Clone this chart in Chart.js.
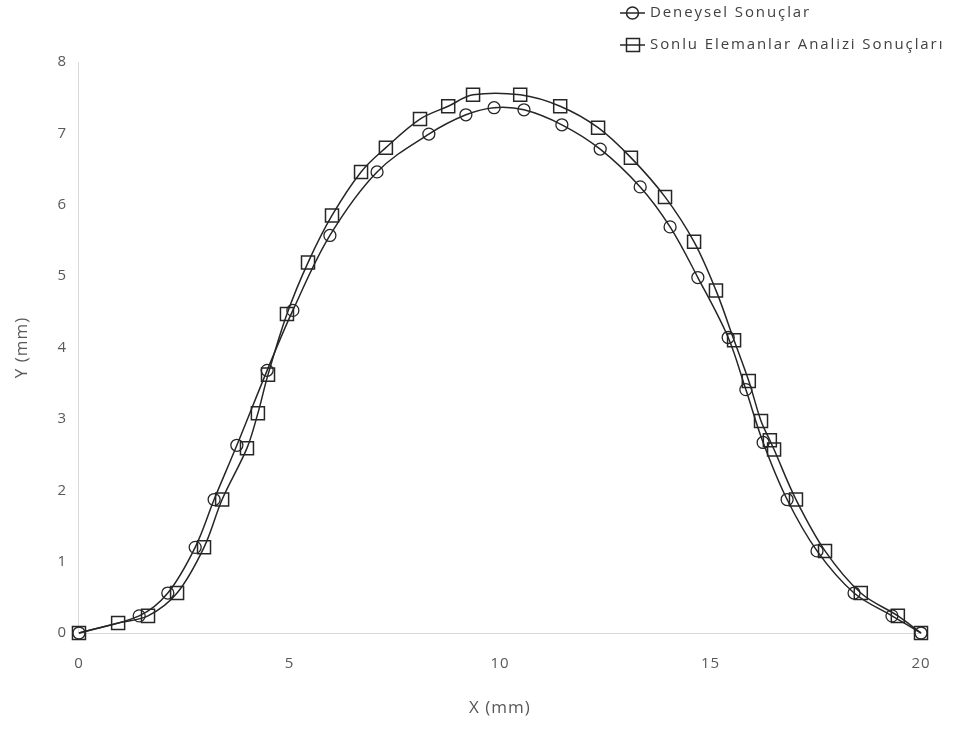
<!DOCTYPE html>
<html>
<head>
<meta charset="utf-8">
<script src="https://cdn.jsdelivr.net/npm/chart.js@4/dist/chart.umd.min.js"></script>
<style>
  html, body { margin: 0; padding: 0; background: #fff; }
  #wrap { width: 963px; height: 729px; }
</style>
</head>
<body>
<div id="wrap"><canvas id="deflectionChart"></canvas></div>
<script>
// Deneysel Sonuçlar (circles)
const expX = [0, 1.43, 2.11, 2.76, 3.21, 3.75, 4.47, 5.08, 5.96, 7.08, 8.31, 9.19, 9.86, 10.57,
  11.47, 12.38, 13.33, 14.04, 14.70, 15.42, 15.84, 16.25, 16.82, 17.53, 18.41, 19.31, 20.0];
const expY = [0, 0.24, 0.56, 1.20, 1.87, 2.63, 3.68, 4.52, 5.57, 6.46, 6.99, 7.26, 7.36, 7.33,
  7.12, 6.78, 6.25, 5.69, 4.98, 4.14, 3.41, 2.67, 1.87, 1.15, 0.56, 0.24, 0];

// Sonlu Elemanlar Analizi Sonuçları (squares)
const femX = [0, 0.93, 1.64, 2.33, 2.97, 3.40, 3.99, 4.25, 4.49, 4.94, 5.44, 6.01, 6.70, 7.29,
  8.10, 8.77, 9.36, 10.48, 11.43, 12.33, 13.11, 13.92, 14.61, 15.13, 15.56, 15.91, 16.20,
  16.41, 16.51, 17.03, 17.72, 18.57, 19.45, 20.0];
const femY = [0, 0.14, 0.24, 0.56, 1.20, 1.87, 2.59, 3.08, 3.62, 4.47, 5.19, 5.85, 6.46, 6.80,
  7.20, 7.38, 7.54, 7.54, 7.38, 7.08, 6.66, 6.11, 5.48, 4.80, 4.10, 3.53, 2.97,
  2.70, 2.57, 1.87, 1.15, 0.56, 0.24, 0];

const xTicks = [0, 5, 10, 15, 20];
const yTicks = [0, 1, 2, 3, 4, 5, 6, 7, 8];

const toPoints = (xs, ys) => xs.map((x, i) => ({ x: x, y: ys[i] }));

const INK = '#262626';
const FONT = "'Open Sans', sans-serif";

// a bit of letter spacing everywhere, the original text is widely spaced
const spacedText = {
  id: 'spacedText',
  beforeDraw(chart) {
    chart.ctx.letterSpacing = '1px';
  }
};

// legend stacked in the top right corner, like the original
const stackedLegend = {
  id: 'stackedLegend',
  afterDraw(chart) {
    const ctx = chart.ctx;
    const x0 = 620, rows = [13, 45];
    ctx.save();
    chart.data.datasets.forEach((ds, i) => {
      const y = rows[i];
      ctx.strokeStyle = INK;
      ctx.lineWidth = 1.5;
      ctx.beginPath();
      ctx.moveTo(x0, y);
      ctx.lineTo(x0 + 25, y);
      ctx.stroke();
      ctx.beginPath();
      if (ds.pointStyle === 'rect') {
        ctx.rect(x0 + 6.5, y - 6.5, 13, 13);
      } else {
        ctx.arc(x0 + 12.5, y, 6, 0, Math.PI * 2);
      }
      ctx.stroke();
      ctx.fillStyle = '#404040';
      ctx.font = '15px ' + FONT;
      ctx.letterSpacing = '1.9px';
      ctx.textBaseline = 'middle';
      ctx.fillText(ds.label, x0 + 30, y);
    });
    ctx.restore();
  }
};

new Chart(document.getElementById('deflectionChart').getContext('2d'), {
  type: 'scatter',
  data: {
    datasets: [
      {
        label: 'Deneysel Sonuçlar',
        data: toPoints(expX, expY),
        showLine: true,
        clip: false,
        borderColor: INK,
        borderWidth: 1.5,
        tension: 0.35,
        pointStyle: 'circle',
        pointRadius: 6,
        pointBorderWidth: 1.3,
        pointBackgroundColor: 'rgba(0,0,0,0)',
        pointBorderColor: INK
      },
      {
        label: 'Sonlu Elemanlar Analizi Sonuçları',
        data: toPoints(femX, femY),
        showLine: true,
        clip: false,
        borderColor: INK,
        borderWidth: 1.5,
        tension: 0.35,
        pointStyle: 'rect',
        pointRadius: 9.2,
        pointBorderWidth: 1.5,
        pointBackgroundColor: 'rgba(0,0,0,0)',
        pointBorderColor: INK
      }
    ]
  },
  options: {
    responsive: true,
    maintainAspectRatio: false,
    animation: false,
    layout: { padding: { top: 62, right: 42, left: 12, bottom: 11 } },
    plugins: {
      legend: { display: false },
      tooltip: { enabled: false }
    },
    scales: {
      x: {
        type: 'linear',
        min: 0,
        max: 20,
        afterBuildTicks: (axis) => { axis.ticks = xTicks.map(v => ({ value: v })); },
        afterFit: (axis) => { axis.height = 85; },
        grid: { display: false, drawTicks: false },
        border: { display: true, color: '#d9d9d9', width: 1 },
        ticks: { color: '#595959', font: { size: 15, family: FONT }, padding: 22 },
        title: {
          display: true,
          text: 'X (mm)',
          color: '#595959',
          font: { size: 17, family: FONT },
          padding: { top: 5, bottom: 0 }
        }
      },
      y: {
        type: 'linear',
        min: 0,
        max: 8,
        afterBuildTicks: (axis) => { axis.ticks = yTicks.map(v => ({ value: v })); },
        grid: { display: false, drawTicks: false },
        border: { display: true, color: '#d9d9d9', width: 1 },
        ticks: { color: '#595959', font: { size: 15, family: FONT }, padding: 12 },
        title: {
          display: true,
          text: 'Y (mm)',
          color: '#595959',
          font: { size: 17, family: FONT },
          padding: { top: 0, bottom: 14 }
        }
      }
    }
  },
  plugins: [spacedText, stackedLegend]
});
</script>
</body>
</html>
